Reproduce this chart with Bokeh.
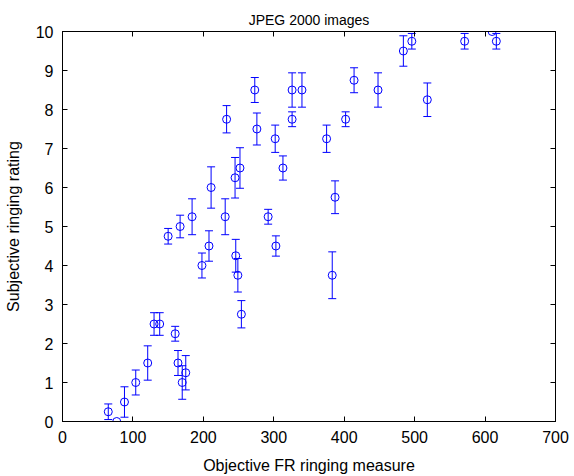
from bokeh.plotting import figure
from bokeh.models import Whisker, ColumnDataSource, TeeHead, LinearAxis, FixedTicker, Range1d
from bokeh.embed import file_html
from bokeh.resources import INLINE

x_vals = [65, 77, 88, 104, 121, 130, 138, 160, 164, 170, 175, 150, 167, 184, 211, 198, 208, 231, 233,
          245, 246, 249, 252, 254, 273, 276, 292, 302, 303, 313, 326, 326, 340, 375, 383, 387, 402,
          414, 448, 484, 496, 518, 571, 610, 616]
y_vals = [0.25, 0, 0.5, 1.0, 1.5, 2.5, 2.5, 2.25, 1.5, 1.0, 1.25, 4.75, 5.0, 5.25, 6.0, 4.0, 4.5, 5.25,
          7.75, 6.25, 4.25, 3.75, 6.5, 2.75, 8.5, 7.5, 5.25, 7.25, 4.5, 6.5, 8.5, 7.75, 8.5, 7.25, 3.75,
          5.75, 7.75, 8.75, 8.5, 9.5, 9.75, 8.25, 9.75, 10.0, 9.75]
err_vals = [0.2, 0, 0.39, 0.32, 0.44, 0.29, 0.29, 0.19, 0.32, 0.43, 0.44, 0.2, 0.29, 0.46, 0.53, 0.32,
            0.39, 0.46, 0.35, 0.52, 0.42, 0.43, 0.52, 0.35, 0.32, 0.41, 0.19, 0.35, 0.26, 0.31, 0.44,
            0.19, 0.44, 0.35, 0.6, 0.42, 0.19, 0.32, 0.44, 0.39, 0.2, 0.43, 0.2, 0, 0.2]
x_ticks = [0, 100, 200, 300, 400, 500, 600, 700]
y_ticks = list(range(0, 11))

src = ColumnDataSource(dict(
    x=x_vals, y=y_vals,
    lower=[a - b for a, b in zip(y_vals, err_vals)],
    upper=[a + b for a, b in zip(y_vals, err_vals)],
))

FONT = "Liberation Sans"
BLUE = "#0000ff"

p = figure(width=574, height=476, output_backend="svg", toolbar_location=None,
           x_range=Range1d(0, 700), y_range=Range1d(0, 10),
           min_border_left=62, min_border_right=19, min_border_top=31, min_border_bottom=55)
p.title.text = "JPEG 2000 images"
p.title.align = "center"
p.title.text_font = FONT
p.title.text_font_size = "14px"
p.title.text_font_style = "normal"
p.title.text_color = "black"
p.title.standoff = 7

p.grid.visible = False
p.outline_line_color = "black"
p.outline_line_width = 1

for ax in (p.xaxis[0], p.yaxis[0]):
    ax.major_tick_in = 5
    ax.major_tick_out = 0
    ax.minor_tick_in = 0
    ax.minor_tick_out = 0
    ax.major_label_text_font = FONT
    ax.major_label_text_font_size = "16px"
    ax.major_label_text_color = "black"
    ax.axis_label_text_font = FONT
    ax.axis_label_text_font_size = "16px"
    ax.axis_label_text_font_style = "normal"
    ax.axis_label_text_color = "black"
    ax.axis_line_color = "black"
    ax.major_tick_line_color = "black"

p.xaxis[0].ticker = FixedTicker(ticks=x_ticks)
p.yaxis[0].ticker = FixedTicker(ticks=y_ticks)
p.xaxis[0].axis_label = "Objective FR ringing measure"
p.yaxis[0].axis_label = "Subjective ringing rating"
p.xaxis[0].major_label_standoff = 9
p.yaxis[0].major_label_standoff = 9
p.xaxis[0].axis_label_standoff = 11
p.yaxis[0].axis_label_standoff = 11

top_ax = LinearAxis(ticker=FixedTicker(ticks=x_ticks), major_tick_in=5, major_tick_out=0,
                    minor_tick_in=0, minor_tick_out=0, major_label_text_font_size="0px",
                    major_label_text_color=None, major_label_standoff=0)
right_ax = LinearAxis(ticker=FixedTicker(ticks=y_ticks), major_tick_in=5, major_tick_out=0,
                      minor_tick_in=0, minor_tick_out=0, major_label_text_font_size="0px",
                      major_label_text_color=None, major_label_standoff=0)
p.add_layout(top_ax, "above")
p.add_layout(right_ax, "right")

w = Whisker(base="x", lower="lower", upper="upper", source=src, dimension="height",
            line_color=BLUE, line_width=1)
w.upper_head = TeeHead(size=8, line_color=BLUE, line_width=1)
w.lower_head = TeeHead(size=8, line_color=BLUE, line_width=1)
p.add_layout(w)

p.scatter("x", "y", source=src, marker="circle", size=8, fill_color=None,
          line_color=BLUE, line_width=1)

open("out.html", "w").write(file_html(p, INLINE))
